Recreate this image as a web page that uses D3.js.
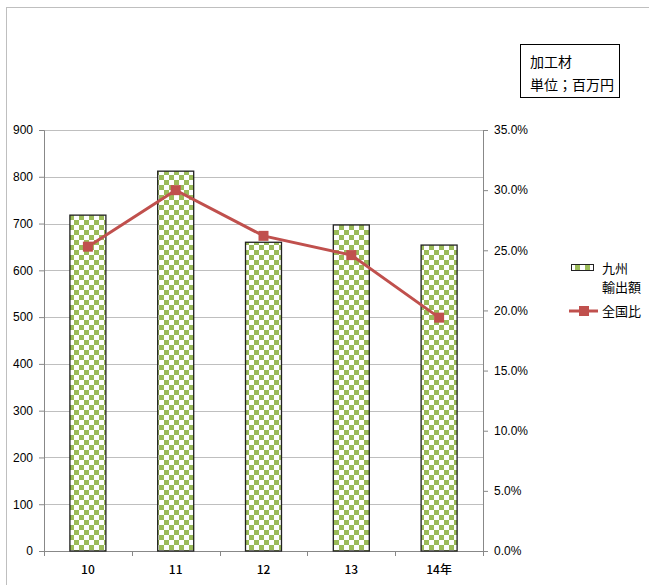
<!DOCTYPE html>
<html>
<head>
<meta charset="utf-8">
<script src="https://cdn.jsdelivr.net/npm/d3@7"></script>
<style>
  body { margin: 0; background: #fff; }
  text { font-family: "Noto Sans CJK JP", "Liberation Sans", sans-serif; fill: #000; }
</style>
</head>
<body>
<svg id="chart" width="649" height="585"></svg>
<script>
const years = ["10", "11", "12", "13", "14年"];
const exportValues = [718, 812, 660, 697, 654];
const shareValues = [25.3, 30.0, 26.2, 24.6, 19.4];
const leftTicks = [0, 100, 200, 300, 400, 500, 600, 700, 800, 900];
const rightTicks = [0, 5, 10, 15, 20, 25, 30, 35];

const svg = d3.select("#chart");
const margins = { left: 44, top: 130, right: 166, bottom: 34 };
const w = 649 - margins.left - margins.right;
const h = 585 - margins.top - margins.bottom;

// checker pattern
const defs = svg.append("defs");
const pat = defs.append("pattern")
  .attr("id", "checker")
  .attr("patternUnits", "userSpaceOnUse")
  .attr("width", 10).attr("height", 10);
pat.append("rect").attr("width", 10).attr("height", 10).attr("fill", "#fff");
pat.append("rect").attr("width", 5).attr("height", 5).attr("fill", "#9bbb59");
pat.append("rect").attr("x", 5).attr("y", 5).attr("width", 5).attr("height", 5).attr("fill", "#9bbb59");

// outer frame
svg.append("rect")
  .attr("x", 6.5).attr("y", 7.5)
  .attr("width", 660).attr("height", 600)
  .attr("fill", "none").attr("stroke", "#bfbfbf");

const g = svg.append("g").attr("transform", `translate(${margins.left},${margins.top})`);

const x = d3.scaleBand().domain(years).range([0, w]);
const yLeft = d3.scaleLinear().domain([0, 900]).range([h, 0]);
const yRight = d3.scaleLinear().domain([0, 35]).range([h, 0]);

// gridlines
g.append("g").selectAll("line").data(leftTicks.slice(1)).join("line")
  .attr("x1", 0).attr("x2", w)
  .attr("y1", d => Math.round(yLeft(d)) + 0.5).attr("y2", d => Math.round(yLeft(d)) + 0.5)
  .attr("stroke", "#bfbfbf");

// left axis
const axL = g.append("g")
  .call(d3.axisLeft(yLeft).tickValues(leftTicks).tickSize(5).tickPadding(6));
// right axis
const axR = g.append("g").attr("transform", `translate(${w},0)`)
  .call(d3.axisRight(yRight).tickValues(rightTicks).tickSize(5).tickPadding(6)
    .tickFormat(d => d.toFixed(1) + "%"));
// x axis
const axX = g.append("g").attr("transform", `translate(0,${h})`)
  .call(d3.axisBottom(x).tickSize(0).tickPadding(14));

// category boundary ticks
g.append("g").selectAll("line").data(d3.range(years.length + 1)).join("line")
  .attr("x1", i => Math.round(i * x.step()) + 0.5).attr("x2", i => Math.round(i * x.step()) + 0.5)
  .attr("y1", h).attr("y2", h + 5)
  .attr("stroke", "#888");

[axL, axR, axX].forEach(a => {
  a.selectAll(".domain, .tick line").attr("stroke", "#888");
  a.selectAll("text").style("font-size", "12px")
    .style("font-family", '"Liberation Sans", "Noto Sans CJK JP", sans-serif');
});
axX.selectAll("text").style("font-family", '"Noto Sans CJK JP", sans-serif')
  .style("font-size", "12px").style("font-weight", "500");

// bars
const barW = 36;
g.append("g").selectAll("rect").data(exportValues).join("rect")
  .attr("x", (d, i) => x(years[i]) + x.bandwidth() / 2 - barW / 2)
  .attr("y", d => yLeft(d))
  .attr("width", barW)
  .attr("height", d => h - yLeft(d))
  .attr("fill", "url(#checker)")
  .attr("stroke", "#222").attr("stroke-width", 1.3);

// line
const line = d3.line()
  .x((d, i) => x(years[i]) + x.bandwidth() / 2)
  .y(d => yRight(d));
g.append("path").datum(shareValues)
  .attr("d", line)
  .attr("fill", "none").attr("stroke", "#c0504d").attr("stroke-width", 3);
g.append("g").selectAll("rect").data(shareValues).join("rect")
  .attr("x", (d, i) => x(years[i]) + x.bandwidth() / 2 - 5)
  .attr("y", d => yRight(d) - 5)
  .attr("width", 10).attr("height", 10)
  .attr("fill", "#c0504d");

// legend
const lg = svg.append("g");
lg.append("rect").attr("x", 571.5).attr("y", 264.5).attr("width", 22).attr("height", 6)
  .attr("fill", "url(#checker)").attr("stroke", "#222");
lg.append("text").attr("x", 602).attr("y", 273).style("font-size", "13px").text("九州");
lg.append("text").attr("x", 602).attr("y", 292).style("font-size", "13px").text("輸出額");
lg.append("line").attr("x1", 569).attr("x2", 598).attr("y1", 311).attr("y2", 311)
  .attr("stroke", "#c0504d").attr("stroke-width", 3);
lg.append("rect").attr("x", 579).attr("y", 306).attr("width", 10).attr("height", 10).attr("fill", "#c0504d");
lg.append("text").attr("x", 602).attr("y", 316).style("font-size", "13px").text("全国比");

// unit box
svg.append("rect").attr("x", 520.5).attr("y", 44.5).attr("width", 99).attr("height", 53)
  .attr("fill", "#fff").attr("stroke", "#000");
svg.append("text").attr("x", 530).attr("y", 67).style("font-size", "14px").text("加工材");
svg.append("text").attr("x", 530).attr("y", 90).style("font-size", "14px").text("単位；百万円");
</script>
</body>
</html>
